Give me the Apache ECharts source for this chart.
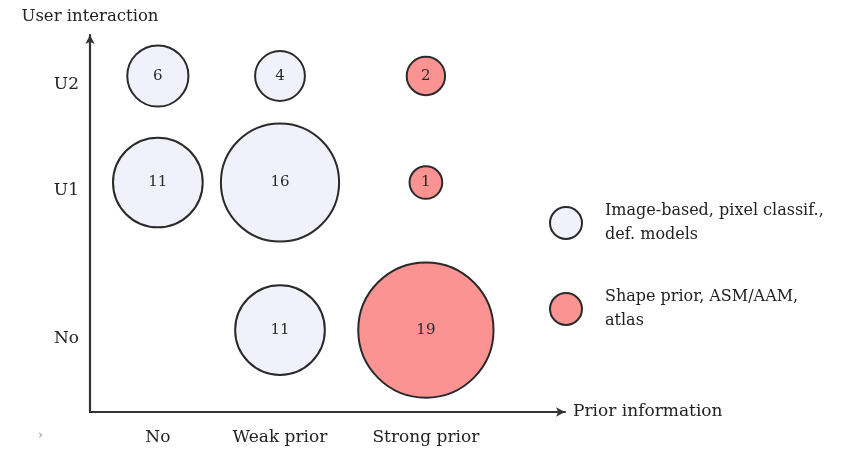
<!DOCTYPE html>
<html>
<head>
<meta charset="utf-8">
<script src="https://cdn.jsdelivr.net/npm/echarts@6/dist/echarts.min.js"></script>
<style>html,body{margin:0;padding:0;background:#fff}#c{width:841px;height:451px}</style>
</head>
<body>
<div id="c"></div>
<script>
// Categories and their positions along each axis
var xCategories = ['No', 'Weak prior', 'Strong prior'];
var xPositions = [1, 2.8, 4.95];
var yCategories = ['No', 'U1', 'U2'];
var yPositions = [1, 2.8, 4.1];

// Series: [xIndex, yIndex, count]
var imageBasedName = 'Image-based, pixel classif.,\ndef. models';
var imageBased = [[0, 2, 6], [1, 2, 4], [0, 1, 11], [1, 1, 16], [1, 0, 11]];
var shapePriorName = 'Shape prior, ASM/AAM,\natlas';
var shapePrior = [[2, 2, 2], [2, 1, 1], [2, 0, 19]];

var FONT = 'DejaVu Serif';
function toPoints(arr) {
  return arr.map(function (d) { return [xPositions[d[0]], yPositions[d[1]], d[2]]; });
}
function labelFor(positions, cats) {
  return function (v) {
    for (var i = 0; i < positions.length; i++) {
      if (Math.abs(positions[i] - v) < 1e-6) return cats[i];
    }
    return '';
  };
}
function sizeFn(d) { return 27 + 5.7 * d[2]; }

var chart = echarts.init(document.getElementById('c'), null, {renderer: 'canvas'});
var axisLineStyle = {color: '#333', width: 2.2};
chart.setOption({
  animation: false,
  backgroundColor: '#fff',
  grid: {left: 90, right: 276, top: 35, bottom: 39, containLabel: false},
  xAxis: {
    type: 'value', min: 0, max: 7,
    name: 'Prior information', nameLocation: 'end', nameGap: 8,
    nameTextStyle: {fontFamily: FONT, fontSize: 17, color: '#222', verticalAlign: 'middle', align: 'left'},
    axisLine: {show: true, lineStyle: axisLineStyle, symbol: ['none', 'arrow'], symbolSize: [7, 9]},
    axisTick: {show: false},
    splitLine: {show: false},
    axisLabel: {customValues: xPositions, formatter: labelFor(xPositions, xCategories),
      fontFamily: FONT, fontSize: 17, color: '#222', margin: 17}
  },
  yAxis: {
    type: 'value', min: 0, max: 4.6,
    name: 'User interaction', nameLocation: 'end', nameGap: 10,
    nameTextStyle: {fontFamily: FONT, fontSize: 16.5, color: '#222', align: 'center'},
    axisLine: {show: true, lineStyle: axisLineStyle, symbol: ['none', 'arrow'], symbolSize: [7, 9]},
    axisTick: {show: false},
    splitLine: {show: false},
    axisLabel: {customValues: yPositions, formatter: labelFor(yPositions, yCategories),
      fontFamily: FONT, fontSize: 17, color: '#222', margin: 11, verticalAlign: 'top'}
  },
  legend: {
    orient: 'vertical', left: 544, top: 194,
    itemWidth: 32, itemHeight: 32, itemGap: 38, icon: 'circle',
    textStyle: {fontFamily: FONT, fontSize: 16, color: '#222', lineHeight: 24, padding: [0, 0, 0, 18]},
    data: [imageBasedName, shapePriorName]
  },
  series: [
    {
      name: imageBasedName, type: 'scatter', data: toPoints(imageBased), symbolSize: sizeFn,
      itemStyle: {color: '#f1f1fc', borderColor: '#2a2a2a', borderWidth: 2, opacity: 1},
      label: {show: true, position: 'inside', formatter: function (p) { return p.value[2]; },
        fontFamily: FONT, fontSize: 15, color: '#2a2a2a'}
    },
    {
      name: shapePriorName, type: 'scatter', data: toPoints(shapePrior), symbolSize: sizeFn,
      itemStyle: {color: '#fb9393', borderColor: '#2a2a2a', borderWidth: 2, opacity: 1},
      label: {show: true, position: 'inside', formatter: function (p) { return p.value[2]; },
        fontFamily: FONT, fontSize: 15, color: '#2a2a2a'}
    }
  ],
  graphic: [
    {type: 'text', left: 38, top: 430, style: {text: '›', fontFamily: FONT, fontSize: 12, fill: '#888'}}
  ]
});
</script>
</body>
</html>
